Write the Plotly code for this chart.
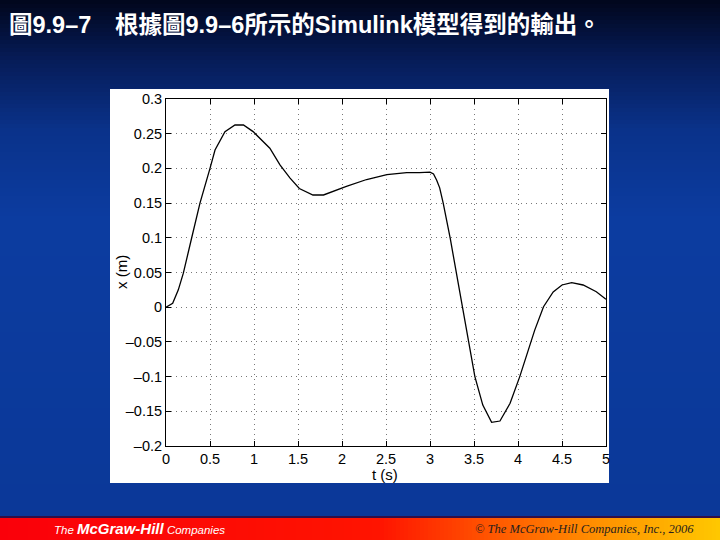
import plotly.graph_objects as go

# ---------------- data ----------------
t_vals = [0, 0.076, 0.14, 0.197, 0.29, 0.386, 0.5, 0.557, 0.67, 0.784, 0.88, 0.99,
          1.18, 1.295, 1.41, 1.515, 1.67, 1.79, 2.05, 2.28, 2.51, 2.735, 2.88, 3.0,
          3.04, 3.076, 3.11, 3.15, 3.23, 3.30, 3.34, 3.40, 3.435, 3.51, 3.60, 3.70,
          3.795, 3.91, 4.02, 4.12, 4.19, 4.29, 4.40, 4.50, 4.61, 4.74, 4.89, 5.0]
x_vals = [0, 0.0056, 0.025, 0.049, 0.099, 0.150, 0.200, 0.2265, 0.253, 0.2625, 0.2625, 0.253,
          0.229, 0.205, 0.186, 0.171, 0.1617, 0.1617, 0.174, 0.184, 0.191, 0.1938, 0.194, 0.1945,
          0.192, 0.183, 0.172, 0.150, 0.099, 0.049, 0.025, -0.018, -0.047, -0.100, -0.141, -0.166,
          -0.164, -0.1385, -0.100, -0.062, -0.033, 0.0007, 0.022, 0.032, 0.0353, 0.032, 0.0223, 0.0114]

x_tickvals = [0, 0.5, 1, 1.5, 2, 2.5, 3, 3.5, 4, 4.5, 5]
x_ticktext = ["0", "0.5", "1", "1.5", "2", "2.5", "3", "3.5", "4", "4.5", "5"]
y_tickvals = [-0.2, -0.15, -0.1, -0.05, 0, 0.05, 0.1, 0.15, 0.2, 0.25, 0.3]
y_ticktext = ["–0.2", "–0.15", "–0.1", "–0.05", "0", "0.05", "0.1", "0.15", "0.2", "0.25", "0.3"]

title_part1 = "圖9.9–7"
title_part2 = "根據圖9.9–6所示的Simulink模型得到的輸出。"
x_label = "t (s)"
y_label = "x (m)"
footer_right = "© The McGraw-Hill Companies, Inc., 2006"

W, H = 720, 540
ML, MR, MT, MB = 166, 114, 99, 94
PW, PH = W - ML - MR, H - MT - MB


def px(x):
    # page pixel -> plot-area paper fraction
    return (x - ML) / PW


def py(y):
    return (H - MB - y) / PH


def lerp_color(stops, v):
    for (p0, c0), (p1, c1) in zip(stops[:-1], stops[1:]):
        if p0 <= v <= p1:
            f = 0 if p1 == p0 else (v - p0) / (p1 - p0)
            c = [round(a + (b - a) * f) for a, b in zip(c0, c1)]
            return "rgb(%d,%d,%d)" % tuple(c)
    c = stops[-1][1]
    return "rgb(%d,%d,%d)" % tuple(c)


shapes = []
# background vertical gradient
bg_stops = [(0, (1, 6, 28)), (60, (6, 28, 88)), (130, (10, 50, 138)),
            (220, (12, 60, 160)), (520, (11, 56, 152))]
step = 4
for y in range(0, 520, step):
    shapes.append(dict(type="rect", xref="paper", yref="paper", layer="below",
                       x0=px(0), x1=px(W), y0=py(y + step + 1), y1=py(y),
                       fillcolor=lerp_color(bg_stops, y + step / 2), line=dict(width=0)))

# footer banner horizontal gradient
ban_stops = [(0, (250, 0, 10)), (380, (255, 20, 0)), (490, (255, 85, 0)),
             (600, (255, 145, 0)), (720, (255, 200, 0))]
for x in range(0, 720, step):
    shapes.append(dict(type="rect", xref="paper", yref="paper", layer="below",
                       x0=px(x), x1=px(x + step + 1), y0=py(541), y1=py(517),
                       fillcolor=lerp_color(ban_stops, x + step / 2), line=dict(width=0)))
shapes.append(dict(type="rect", xref="paper", yref="paper", layer="below",
                   x0=px(0), x1=px(W), y0=py(518), y1=py(516),
                   fillcolor="rgb(50,15,70)", line=dict(width=0)))

# white chart panel
shapes.append(dict(type="rect", xref="paper", yref="paper", layer="below",
                   x0=px(110), x1=px(609), y0=py(483), y1=py(89),
                   fillcolor="white", line=dict(width=0)))

fig = go.Figure()
fig.add_trace(go.Scatter(x=t_vals, y=x_vals, mode="lines",
                         line=dict(color="black", width=1.3), showlegend=False,
                         hoverinfo="skip"))

tick_font = dict(family="Liberation Sans, Arial, sans-serif", size=14.5, color="black")
grid_style = dict(showgrid=True, gridcolor="rgb(120,120,120)", griddash="1px,4px", gridwidth=1,
                  zeroline=False, showline=True, linecolor="black", linewidth=1,
                  mirror="allticks", ticks="inside", ticklen=5, tickcolor="black",
                  tickfont=tick_font)

title_font = dict(family="Liberation Sans, Noto Sans CJK TC, sans-serif", size=23.5,
                  color="white")

fig.update_layout(
    width=W, height=H, autosize=False,
    margin=dict(l=ML, r=MR, t=MT, b=MB, pad=0),
    paper_bgcolor="rgb(11,56,150)",
    plot_bgcolor="white",
    shapes=shapes,
    xaxis=dict(range=[0, 5], tickvals=x_tickvals, ticktext=x_ticktext, **grid_style),
    yaxis=dict(range=[-0.2, 0.3], tickvals=y_tickvals, ticktext=y_ticktext, **grid_style),
    annotations=[
        dict(text="<b>" + title_part1 + "</b>", xref="paper", yref="paper",
             x=px(7), y=py(25), xanchor="left", yanchor="middle", showarrow=False,
             font=title_font),
        dict(text="<b>" + title_part2 + "</b>", xref="paper", yref="paper",
             x=px(113), y=py(25), xanchor="left", yanchor="middle", showarrow=False,
             font=title_font),
        dict(text=x_label, xref="paper", yref="paper", x=px(385), y=py(474),
             xanchor="center", yanchor="middle", showarrow=False,
             font=dict(family="Liberation Sans, Arial, sans-serif", size=15, color="black")),
        dict(text=y_label, xref="paper", yref="paper", x=px(121), y=py(272),
             xanchor="center", yanchor="middle", showarrow=False, textangle=-90,
             font=dict(family="Liberation Sans, Arial, sans-serif", size=15, color="black")),
        dict(text="<i>The <b><span style='font-size:15px'>McGraw-Hill</span></b> Companies</i>",
             xref="paper", yref="paper", x=px(52), y=py(528), xanchor="left", yanchor="middle",
             showarrow=False,
             font=dict(family="Liberation Sans, Arial, sans-serif", size=11.5, color="white")),
        dict(text="<i>" + footer_right + "</i>", xref="paper", yref="paper",
             x=px(696), y=py(529), xanchor="right", yanchor="middle", showarrow=False,
             font=dict(family="Liberation Serif, Times New Roman, serif", size=12.5,
                       color="rgb(40,30,30)")),
    ],
)

fig.write_html("out.html", config={"displayModeBar": False},
               post_script="document.body.style.margin='0';")
